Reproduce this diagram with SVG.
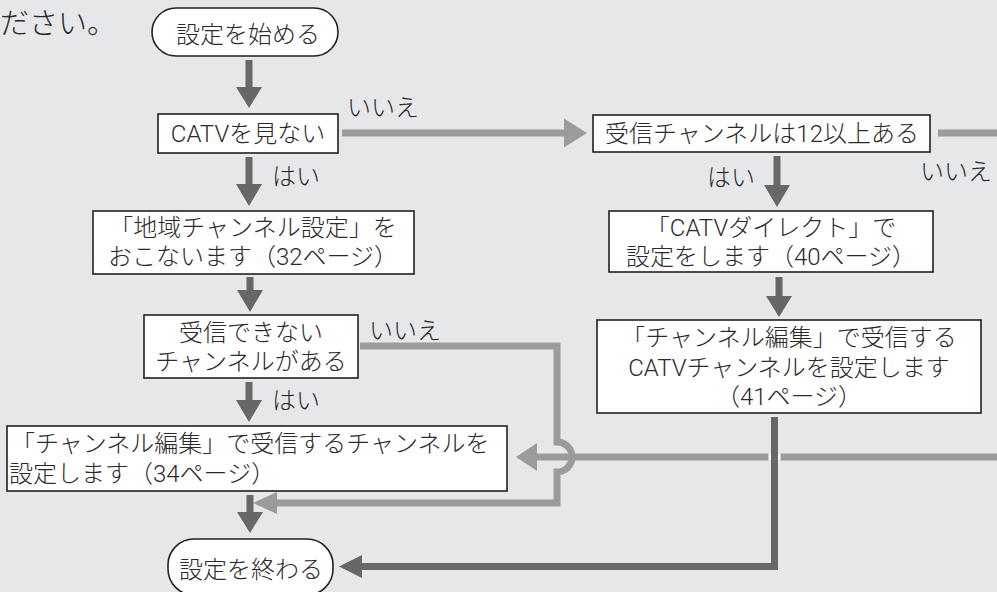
<svg xmlns="http://www.w3.org/2000/svg" width="997" height="592" viewBox="0 0 997 592">
<style>
.bg{fill:#e6e7e9}
.box{fill:#fff;stroke:#231f20;stroke-width:1.6}
text{font-family:Roboto,"Noto Sans CJK JP",sans-serif;font-size:24px;fill:#2a2a2a;font-weight:300}
.c{text-anchor:middle}
.dk{fill:#676767}
.lt{fill:#9b9b9b}
.ltl{fill:none;stroke:#9b9b9b;stroke-width:7}
.dkl{fill:none;stroke:#676767;stroke-width:7}
</style>
<rect class="bg" x="0" y="0" width="997" height="592"/>
<text x="0" y="34" style="font-size:29px">ださい。</text>

<g id="connectors">
  <path class="dk" d="M245.5 60h7v27h9.5l-13 21l-13-21h9.5z"/>
  <path class="dk" d="M245.5 157h7v27h9.5l-13 22l-13-22h9.5z"/>
  <path class="dk" d="M246.5 277h7v13h9.5l-13 22l-13-22h9.5z"/>
  <path class="dk" d="M245.5 382h7v18h9.5l-13 22l-13-22h9.5z"/>
  <path class="dk" d="M246.5 495h7v17h9.5l-13 21l-13-21h9.5z"/>
  <path class="dk" d="M773.5 156h7v29h9.5l-13 22l-13-22h9.5z"/>
  <path class="dk" d="M775.5 277h7v19h9.5l-13 21l-13-21h9.5z"/>
  <path class="lt" d="M342 129.5h222v-11l23 14.5l-23 14.5v-11h-222z"/>
  <rect class="lt" x="938" y="129.5" width="59" height="7"/>
  <path class="lt" d="M997 453.5h-460v-10.5l-21 14l21 14v-10.5h460z"/>
  <path class="ltl" d="M360 346H557V442A15 15 0 0 1 557 472V503H276"/>
  <path class="lt" d="M277 492l-24 11l24 11z"/>
  <rect x="768.5" y="453.5" width="12" height="7" fill="#fff"/>
  <path class="dkl" d="M774.5 417V566.5H360"/>
  <path class="dk" d="M362 555l-23 11.5l23 11.5z"/>
</g>

<g id="start">
  <rect class="box" x="152" y="8" width="186" height="48" rx="24"/>
  <text class="c" x="248" y="43">設定を始める</text>
</g>
<g id="catv">
  <rect class="box" x="158" y="114" width="180" height="39"/>
  <text class="c" x="248" y="142">CATVを見ない</text>
</g>
<g id="lbl-no1"><text x="347" y="116">いいえ</text></g>
<g id="lbl-yes1"><text x="272" y="185">はい</text></g>
<g id="ch12">
  <rect class="box" x="593" y="115" width="337" height="37"/>
  <text class="c" x="762" y="142">受信チャンネルは12以上ある</text>
</g>
<g id="lbl-yes2"><text x="707" y="186">はい</text></g>
<g id="lbl-no2"><text x="920" y="180">いいえ</text></g>
<g id="area">
  <rect class="box" x="93" y="211" width="321" height="63"/>
  <text class="c" x="253" y="236">「地域チャンネル設定」を</text>
  <text class="c" x="253" y="265">おこないます（32ページ）</text>
</g>
<g id="direct">
  <rect class="box" x="609" y="211" width="324" height="61"/>
  <text class="c" x="771" y="236">「CATVダイレクト」で</text>
  <text class="c" x="771" y="265">設定をします（40ページ）</text>
</g>
<g id="cannot">
  <rect class="box" x="144" y="315" width="214" height="63"/>
  <text class="c" x="251" y="341">受信できない</text>
  <text class="c" x="251" y="370">チャンネルがある</text>
</g>
<g id="lbl-no3"><text x="369" y="339">いいえ</text></g>
<g id="edit-catv">
  <rect class="box" x="597" y="320" width="384" height="93"/>
  <text class="c" x="789" y="346">「チャンネル編集」で受信する</text>
  <text class="c" x="789" y="376">CATVチャンネルを設定します</text>
  <text class="c" x="789" y="405">（41ページ）</text>
</g>
<g id="lbl-yes3"><text x="272" y="409">はい</text></g>
<g id="edit">
  <rect class="box" x="7" y="426" width="500" height="65"/>
  <text x="11" y="452">「チャンネル編集」で受信するチャンネルを</text>
  <text x="9" y="482">設定します（34ページ）</text>
</g>
<g id="end">
  <rect class="box" x="168" y="539" width="165" height="56" rx="26"/>
  <text class="c" x="251" y="578">設定を終わる</text>
</g>
</svg>
